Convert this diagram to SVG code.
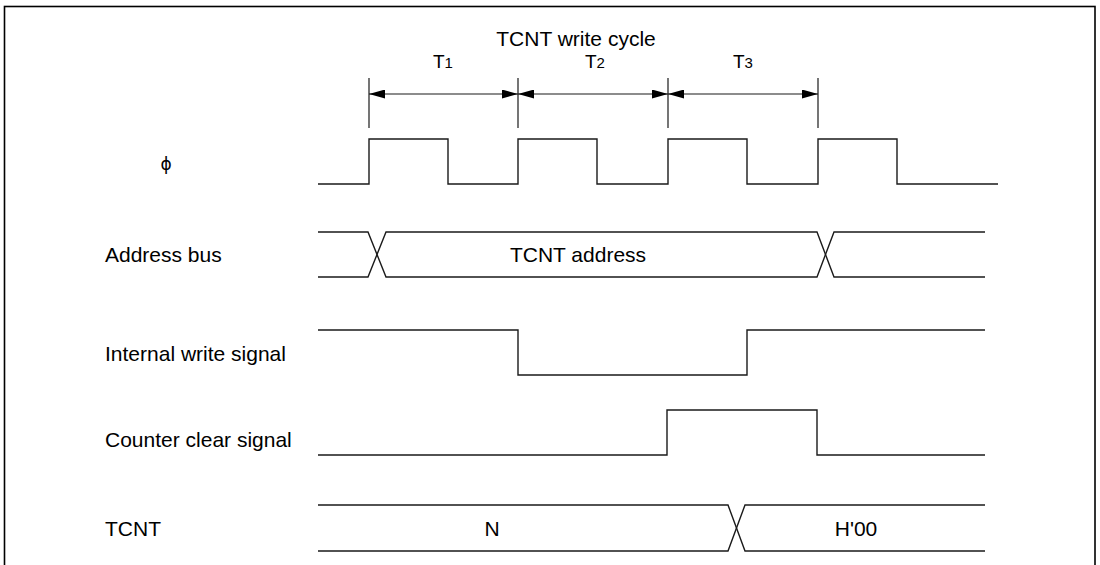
<svg xmlns="http://www.w3.org/2000/svg" width="1100" height="565" viewBox="0 0 1100 565">
<style>
.sig{fill:none;stroke:#1a1a1a;stroke-width:1.4;stroke-linejoin:miter}
.tick{fill:none;stroke:#1a1a1a;stroke-width:1.2}
.dim{fill:none;stroke:#1a1a1a;stroke-width:1.2}
.lbl{font-family:"Liberation Sans",Arial,sans-serif;font-size:21px;fill:#000}
.tl{font-family:"Liberation Sans",Arial,sans-serif;font-size:19px;fill:#000}
.sub{font-size:15px}
</style>
<defs>
<marker id="ah" viewBox="0 0 16 9" refX="16" refY="4.5" markerWidth="16" markerHeight="9" markerUnits="userSpaceOnUse" orient="auto-start-reverse">
<path d="M0,0 L16,4.5 L0,9 z" fill="#000"/>
</marker>
</defs>
<rect x="4.5" y="6.5" width="1090.5" height="620" fill="#fff" stroke="#000" stroke-width="1.6"/>
<g id="title"><text class="lbl" x="576" y="46" text-anchor="middle">TCNT write cycle</text></g>
<g id="cycles">
<line class="tick" x1="369" y1="78" x2="369" y2="128"/>
<line class="tick" x1="518" y1="78" x2="518" y2="128"/>
<line class="tick" x1="668" y1="78" x2="668" y2="128"/>
<line class="tick" x1="818" y1="78" x2="818" y2="128"/>
<text class="tl" x="433" y="68">T<tspan class="sub">1</tspan></text>
<text class="tl" x="585" y="68">T<tspan class="sub">2</tspan></text>
<text class="tl" x="733" y="68">T<tspan class="sub">3</tspan></text>
</g>
<g id="connectors">
<line class="dim" x1="369" y1="94" x2="518" y2="94" marker-start="url(#ah)" marker-end="url(#ah)"/>
<line class="dim" x1="518" y1="94" x2="668" y2="94" marker-start="url(#ah)" marker-end="url(#ah)"/>
<line class="dim" x1="668" y1="94" x2="818" y2="94" marker-start="url(#ah)" marker-end="url(#ah)"/>
</g>
<g id="phi">
<text x="166" y="170" text-anchor="middle" style="font-family:'DejaVu Sans',sans-serif;font-size:17px;fill:#000">ϕ</text>
<path class="sig" d="M318,184 H369 V139 H448 V184 H518 V139 H597 V184 H668 V139 H747 V184 H818 V139 H897 V184 H998"/>
</g>
<g id="address-bus">
<text class="lbl" x="105" y="262">Address bus</text>
<path class="sig" d="M318,232 H368 L386,277 H817 L834,232 H985"/>
<path class="sig" d="M318,277 H368 L386,232 H817 L834,277 H985"/>
<text class="lbl" x="578" y="262" text-anchor="middle">TCNT address</text>
</g>
<g id="internal-write">
<text class="lbl" x="105" y="361">Internal write signal</text>
<path class="sig" d="M318,330 H518 V375 H747 V330 H985"/>
</g>
<g id="counter-clear">
<text class="lbl" x="105" y="447">Counter clear signal</text>
<path class="sig" d="M318,455 H667 V410 H817 V455 H985"/>
</g>
<g id="tcnt">
<text class="lbl" x="105" y="536">TCNT</text>
<path class="sig" d="M318,505 H728 L745,551 H985"/>
<path class="sig" d="M318,551 H728 L745,505 H985"/>
<text class="lbl" x="492" y="536" text-anchor="middle">N</text>
<text class="lbl" x="856" y="536" text-anchor="middle">H'00</text>
</g>
</svg>
